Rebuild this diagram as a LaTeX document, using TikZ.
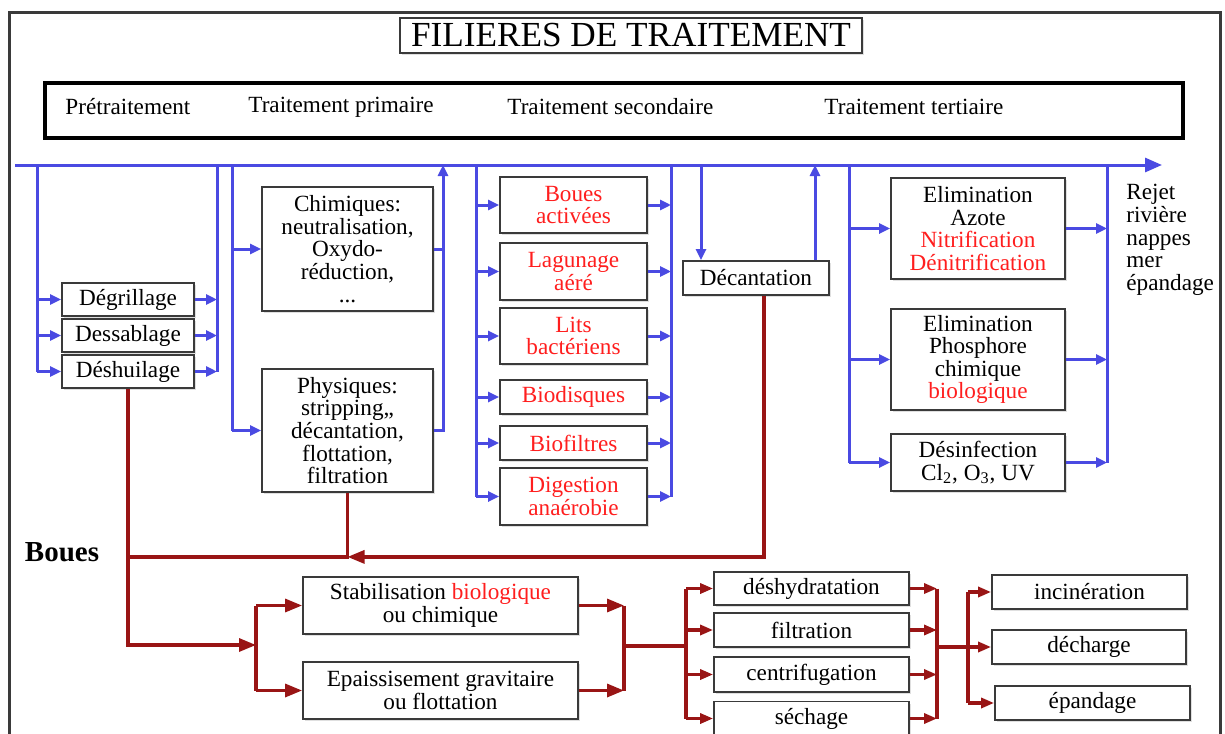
\documentclass[tikz,border=0pt]{standalone}
\usepackage{fontspec}
\setmainfont{Liberation Serif}
\usepackage{xcolor}
\definecolor{bleuFil}{HTML}{4A4AE2}
\definecolor{rougeBoue}{HTML}{991515}
\definecolor{rougeTexte}{HTML}{FF1E1E}
\definecolor{grisCadre}{HTML}{3A3A3A}
\usetikzlibrary{arrows.meta, calc, shadows}
\newcommand{\enRouge}[1]{\textcolor{rougeTexte}{#1}}
\tikzset{
  %% ── Boîtes ───────────────────────────────────────────────────────────
  boite/.style      = {draw=grisCadre, line width=0.9pt, fill=white,
                       align=center, inner sep=0pt,
                       font=\fontsize{11.6}{11.3}\selectfont,
                       drop shadow={shadow xshift=1pt, shadow yshift=-1pt,
                                    fill=black!25}},
  titreBoite/.style = {boite, line width=0.7pt,
                       font=\fontsize{17.6}{18}\selectfont},
  bandeau/.style    = {draw=black, line width=1.7pt, fill=white},
  etape/.style      = {anchor=west, inner sep=0pt,
                       font=\fontsize{11.6}{12}\selectfont},
  cadre/.style      = {draw=grisCadre, line width=1.5pt},
  %%
  %% ── Flèches ──────────────────────────────────────────────────────────
  ligneBleue/.style = {draw=bleuFil, line width=1.5pt},
  fleche/.style     = {ligneBleue, -{Triangle[length=5.5pt, width=5pt]}},
  flecheMain/.style = {ligneBleue, -{Triangle[length=8.5pt, width=7pt]}},
  ligneRouge/.style = {draw=rougeBoue, line width=1.6pt},
  flecheRouge/.style = {ligneRouge, -{Triangle[length=6.5pt, width=5pt]}},
  flecheForte/.style = {ligneRouge, -{Triangle[length=8.5pt, width=6.5pt]}},
}

\begin{document}
\begin{tikzpicture}[x=0.5pt, y=-0.5pt]
\useasboundingbox (0,0) rectangle (1225,733);

%% cadre et titres
\draw[cadre] (9,745) -- (9,13) -- (1220,13) -- (1220,745);
\node[titreBoite, minimum width=231pt, minimum height=17.5pt] (titre) at (631,35.5)
     {FILIERES DE TRAITEMENT};
\node[bandeau, minimum width=569pt, minimum height=27.5pt] (entete) at (614,110.5) {};
\node[etape] (pre)  at (65,107)  {Prétraitement};
\node[etape] (prim) at (248,107) {Traitement primaire};
\node[etape] (sec)  at (507,107) {Traitement secondaire};
\node[etape] (ter)  at (824,107) {Traitement tertiaire};

%% ligne principale
\coordinate (mS) at (15,165);
\coordinate (mE) at (1162,165);
\draw[flecheMain] (mS) -- (mE);
\foreach \n/\x in {pIn/37, pOut/217, qIn/232, qOut/443, sIn/476, sOut/671,
                   dIn/701, dOut/815, tIn/849, tOut/1107}
  \coordinate (\n) at (\x,165);

%% prétraitement
\node[boite, minimum width=66pt, minimum height=16.5pt] (degr) at (128,299.5) {Dégrillage};
\node[boite, minimum width=66pt, minimum height=16.5pt] (dess) at (128,335.5) {Dessablage};
\node[boite, minimum width=66pt, minimum height=16.5pt] (desh) at (128,371.5) {Déshuilage};
\draw[ligneBleue] (pIn) -- (pIn |- desh.west);
\draw[ligneBleue] (pOut) -- (pOut |- desh.east);
\foreach \b in {degr, dess, desh} {
  \draw[fleche] (pIn |- \b.west) -- (\b.west);
  \draw[fleche] (\b.east) -- (pOut |- \b.east);
}

%% traitement primaire
\node[boite, minimum width=85.5pt, minimum height=62pt] (chim) at (347.5,249)
     {Chimiques:\\neutralisation,\\Oxydo-\\réduction,\\...};
\node[boite, minimum width=85.5pt, minimum height=61.5pt] (phys) at (347.5,430.5)
     {Physiques:\\stripping,,\\décantation,\\flottation,\\filtration};
\draw[ligneBleue] (qIn) -- (qIn |- phys.west);
\draw[fleche] (qIn |- chim.west) -- (chim.west);
\draw[fleche] (qIn |- phys.west) -- (phys.west);
\draw[ligneBleue] (chim.east) -- (qOut |- chim.east);
\draw[fleche] (phys.east) -| (qOut);

%% traitement secondaire
\node[boite, minimum width=73.5pt, minimum height=28pt] (bact) at (573.5,205)
     {\enRouge{Boues}\\\enRouge{activées}};
\node[boite, minimum width=73.5pt, minimum height=28.5pt] (lagu) at (573.5,271.5)
     {\enRouge{Lagunage}\\\enRouge{aéré}};
\node[boite, minimum width=73.5pt, minimum height=28pt] (lits) at (573.5,336)
     {\enRouge{Lits}\\\enRouge{bactériens}};
\node[boite, minimum width=73.5pt, minimum height=17pt] (biod) at (573.5,397)
     {\enRouge{Biodisques}};
\node[boite, minimum width=73.5pt, minimum height=17pt] (biof) at (573.5,443)
     {\enRouge{Biofiltres}};
\node[boite, minimum width=73.5pt, minimum height=28.5pt] (dige) at (573.5,496.5)
     {\enRouge{Digestion}\\\enRouge{anaérobie}};
\draw[ligneBleue] (sIn) -- (sIn |- dige.west);
\draw[ligneBleue] (sOut) -- (sOut |- dige.east);
\foreach \b in {bact, lagu, lits, biod, biof, dige} {
  \draw[fleche] (sIn |- \b.west) -- (\b.west);
  \draw[fleche] (\b.east) -- (sOut |- \b.east);
}
\node[boite, minimum width=73pt, minimum height=17pt] (deca) at (756,278) {Décantation};
\draw[fleche] (dIn) -- (dIn |- deca.north);
\draw[fleche] (dOut |- deca.north) -- (dOut);

%% traitement tertiaire
\node[boite, minimum width=87pt, minimum height=50.5pt] (azot) at (978,228.5)
     {Elimination\\Azote\\\enRouge{Nitrification}\\\enRouge{Dénitrification}};
\node[boite, minimum width=87pt, minimum height=50.5pt] (phos) at (978,359.5)
     {Elimination\\Phosphore\\chimique\\\enRouge{biologique}};
\node[boite, minimum width=87pt, minimum height=28.5pt] (desi) at (978,462.5)
     {Désinfection\\Cl\textsubscript{2}, O\textsubscript{3}, UV};
\draw[ligneBleue] (tIn) -- (tIn |- desi.west);
\draw[ligneBleue] (tOut) -- (tOut |- desi.east);
\foreach \b in {azot, phos, desi} {
  \draw[fleche] (tIn |- \b.west) -- (\b.west);
  \draw[fleche] (\b.east) -- (tOut |- \b.east);
}
\node[etape, align=left, font=\fontsize{11.6}{11.4}\selectfont] (rejet) at (1126,240)
     {Rejet\\rivière\\nappes\\mer\\épandage};

%% filière boues
\node[anchor=center, inner sep=0pt, font=\fontsize{14.5}{15}\selectfont\bfseries] (boues)
     at (62,552) {Boues};
\coordinate (jB) at ($(phys.south)+(0,64)$);
\coordinate (jA) at (256,645);
\draw[ligneRouge] (phys.south) -- (jB) -- (desh.south |- jB);
\draw[flecheForte] ([xshift=4pt]deca.south) |- (jB);
\draw[flecheForte] (desh.south) |- (jA);

\node[boite, minimum width=137.5pt, minimum height=28.5pt] (stab) at (440.5,605.5)
     {Stabilisation \enRouge{biologique}\\ou chimique};
\node[boite, minimum width=137.5pt, minimum height=28.5pt] (epai) at (440.5,690.5)
     {Epaissisement gravitaire\\ou flottation};
\draw[ligneRouge] (jA |- stab.west) -- (jA |- epai.west);
\draw[flecheForte] (jA |- stab.west) -- (stab.west);
\draw[flecheForte] (jA |- epai.west) -- (epai.west);

\coordinate (jC) at (624,646);
\coordinate (jD) at (686,646);
\draw[flecheForte] (stab.east) -- (jC |- stab.east);
\draw[flecheForte] (epai.east) -- (jC |- epai.east);
\draw[ligneRouge] (jC |- stab.east) -- (jC |- epai.east);
\draw[ligneRouge] (jC) -- (jD);

\node[boite, minimum width=97.5pt, minimum height=16.5pt] (dhyd) at (811.5,588.5) {déshydratation};
\node[boite, minimum width=97.5pt, minimum height=17pt]   (filt) at (811.5,630)   {filtration};
\node[boite, minimum width=97.5pt, minimum height=17.5pt] (cent) at (811.5,674.5) {centrifugation};
\node[boite, minimum width=97.5pt, minimum height=17pt]   (sech) at (811.5,718.5) {séchage};
\coordinate (jE) at (937,647);
\coordinate (jF) at (968,647);
\draw[ligneRouge] (jD |- dhyd.west) -- (jD |- sech.west);
\draw[ligneRouge] (jE |- dhyd.east) -- (jE |- sech.east);
\foreach \b in {dhyd, filt, cent, sech} {
  \draw[flecheRouge] (jD |- \b.west) -- (\b.west);
  \draw[flecheRouge] (\b.east) -- (jE |- \b.east);
}
\draw[ligneRouge] (jE) -- (jF);

\node[boite, minimum width=97.5pt, minimum height=17pt] (inci) at (1089.5,592) {incinération};
\node[boite, minimum width=97pt, minimum height=17pt]   (dech) at (1089,647)   {décharge};
\node[boite, minimum width=97.5pt, minimum height=17pt] (epan) at (1092.5,703) {épandage};
\draw[ligneRouge] (jF |- inci.west) -- (jF |- epan.west);
\foreach \b in {inci, dech, epan}
  \draw[flecheRouge] (jF |- \b.west) -- (\b.west);

\end{tikzpicture}
\end{document}
